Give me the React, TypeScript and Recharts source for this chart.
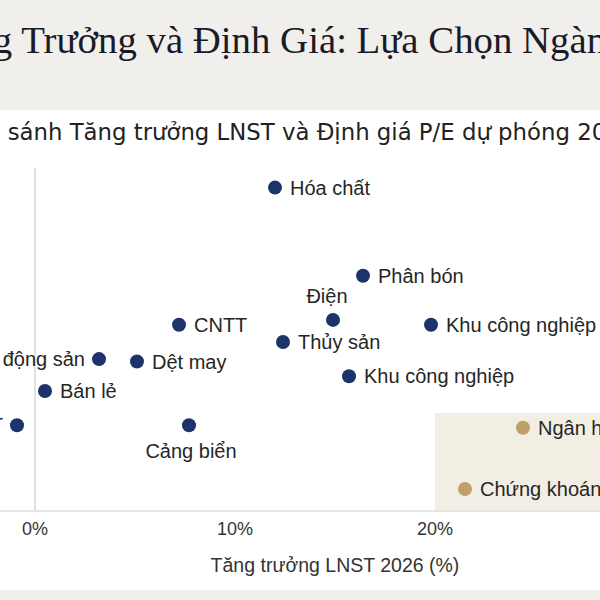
import { ScatterChart, Scatter, XAxis, YAxis, ReferenceLine, ReferenceArea } from 'recharts'

// ngành thường
const sectorNames = ['Hóa chất', 'Phân bón', 'Điện', 'CNTT', 'Khu công nghiệp', 'Thủy sản', 'Bất động sản', 'Dệt may', 'Khu công nghiệp', 'Bán lẻ', 'NLTT', 'Cảng biển']
const sectorGrowth = [12.0, 16.4, 14.9, 7.2, 19.8, 12.4, 3.2, 5.1, 15.7, 0.5, -0.9, 7.7]
const sectorPE = [19.2, 15.6, 13.8, 13.6, 13.6, 12.9, 12.2, 12.1, 11.5, 10.9, 9.5, 9.5]

// ngành nổi bật (vùng hấp dẫn)
const pickNames = ['Ngân hàng', 'Chứng khoán']
const pickGrowth = [24.4, 21.5]
const pickPE = [9.4, 6.9]

const xTicks = [0, 10, 20, 30]

// vị trí nhãn theo thứ tự điểm
const sectorLabelSide = ['right', 'right', 'top', 'right', 'right', 'right', 'left', 'right', 'right', 'right', 'left', 'bottom']
const pickLabelSide = ['right', 'right']

const NAVY = '#1c336b'
const GOLD = '#bfa06a'
const BAND = '#f0efeb'

const sectors = sectorNames.map((name, i) => ({ name, x: sectorGrowth[i], y: sectorPE[i], side: sectorLabelSide[i] }))
const picks = pickNames.map((name, i) => ({ name, x: pickGrowth[i], y: pickPE[i], side: pickLabelSide[i] }))

function makeDot(color: string) {
  return (props: any) => {
    const { cx, cy, payload } = props
    const side = payload.side
    let tx = cx + 15
    let ty = cy
    let anchor: 'start' | 'end' | 'middle' = 'start'
    if (side === 'left') { tx = cx - 14; anchor = 'end' }
    if (side === 'top') { tx = cx - 6; ty = cy - 24; anchor = 'middle' }
    if (side === 'bottom') { tx = cx + 2; ty = cy + 26; anchor = 'middle' }
    return (
      <g>
        <circle cx={cx} cy={cy} r={7} fill={color} />
        <text x={tx} y={ty} textAnchor={anchor} dominantBaseline="central" fontSize={20} fill="#262626">
          {payload.name}
        </text>
      </g>
    )
  }
}

export default function App() {
  return (
    <div style={{ position: 'absolute', left: 0, top: 0, width: 600, height: 600, overflow: 'hidden', background: '#fff', fontFamily: '"Liberation Sans", Arial, sans-serif' }}>
      {/* dải tiêu đề */}
      <div style={{ position: 'absolute', left: 0, top: 0, width: 600, height: 110, background: BAND }} />
      <div style={{ position: 'absolute', left: -67.5, top: 20.5, whiteSpace: 'nowrap', fontFamily: '"Liberation Serif", serif', fontSize: 38.8, lineHeight: '38.8px', color: '#1a1a28' }}>
        Tăng Trưởng và Định Giá: Lựa Chọn Ngành Tiềm Năng
      </div>
      <div style={{ position: 'absolute', left: -28, top: 121, whiteSpace: 'nowrap', fontFamily: '"DejaVu Sans", sans-serif', fontSize: 22.8, lineHeight: '22.8px', color: '#222' }}>
        So sánh Tăng trưởng LNST và Định giá P/E dự phóng 2026
      </div>

      <div style={{ position: 'absolute', left: -65.5, top: 168 }}>
        <ScatterChart width={800} height={413} margin={{ top: 0, right: 0, bottom: 0, left: 0 }}>
          <XAxis
            type="number"
            dataKey="x"
            domain={[-5, 35]}
            ticks={xTicks}
            tickFormatter={(v: number) => `${v}%`}
            tickLine={false}
            tickMargin={5}
            axisLine={{ stroke: '#e4e4e4', strokeWidth: 2 }}
            tick={{ fill: '#333', fontSize: 18 }}
            height={70}
            label={{ value: 'Tăng trưởng LNST 2026 (%)', position: 'insideBottom', offset: 9, fill: '#333', fontSize: 19.5 }}
          />
          <YAxis type="number" dataKey="y" domain={[6, 20]} hide />
          <ReferenceArea x1={20} x2={35} y1={6} y2={10} fill="#f2eee4" fillOpacity={1} stroke="none" />
          <ReferenceLine x={0} stroke="#e2e2e2" strokeWidth={2} />
          <Scatter data={sectors} fill={NAVY} shape={makeDot(NAVY)} isAnimationActive={false} />
          <Scatter data={picks} fill={GOLD} shape={makeDot(GOLD)} isAnimationActive={false} />
        </ScatterChart>
      </div>

      <div style={{ position: 'absolute', left: 0, top: 590, width: 600, height: 10, background: BAND }} />
    </div>
  )
}
